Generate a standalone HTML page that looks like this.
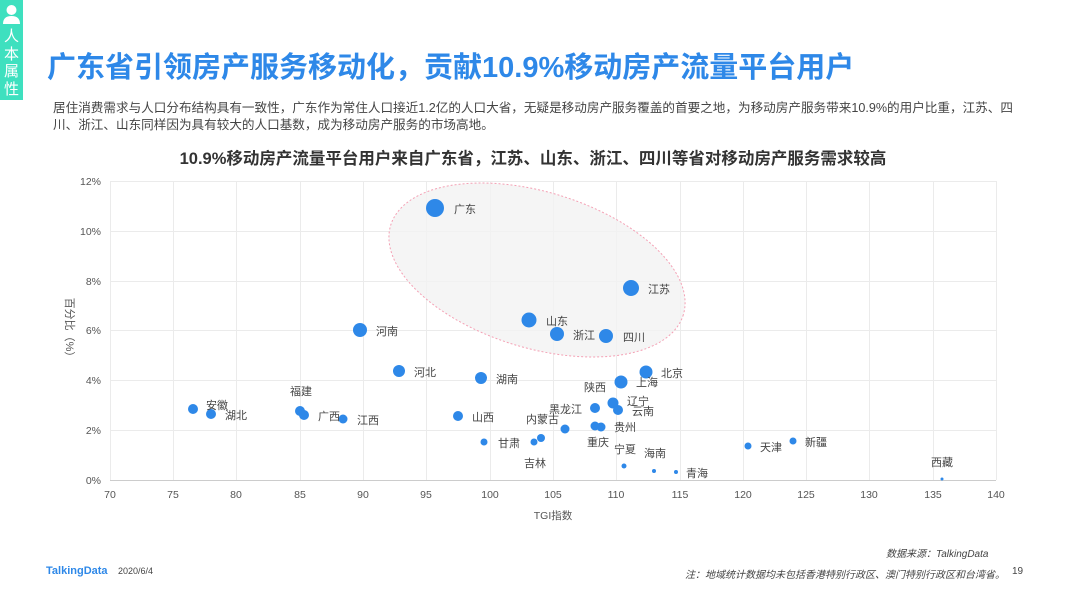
<!DOCTYPE html>
<html><head><meta charset="utf-8"><style>
body{margin:0;width:1066px;height:599px;background:#fff;overflow:hidden;font-family:"Liberation Sans","Noto Sans CJK SC",sans-serif;position:relative}
.a{position:absolute;white-space:nowrap}
</style></head><body>
<div class="a" style="left:0;top:0;width:23px;height:100px;background:#3ee0bf"></div>
<svg class="a" style="left:0;top:0" width="23" height="100"><circle cx="11.5" cy="10" r="5" fill="#fff"/><path d="M3 24 Q3 16 11.5 16 Q20 16 20 24 Z" fill="#fff"/></svg>
<div class="a" style="left:4px;top:27px;width:17px;font-size:15px;line-height:17.5px;color:#fff;font-family:'Noto Sans CJK SC',sans-serif">人<br>本<br>属<br>性</div>
<div class="a" style="left:47px;top:44px;font-size:29px;font-weight:bold;color:#2e88e8;font-family:'Liberation Sans','Noto Sans CJK SC',sans-serif">广东省引领房产服务移动化，贡献10.9%移动房产流量平台用户</div>
<div class="a" style="left:53px;top:100px;font-size:12.6px;line-height:17px;color:#444;white-space:normal;width:962px">居住消费需求与人口分布结构具有一致性，广东作为常住人口接近1.2亿的人口大省，无疑是移动房产服务覆盖的首要之地，为移动房产服务带来10.9%的用户比重，江苏、四川、浙江、山东同样因为具有较大的人口基数，成为移动房产服务的市场高地。</div>
<div class="a" style="left:0;width:1066px;text-align:center;top:145px;font-size:16.5px;font-weight:bold;color:#333">10.9%移动房产流量平台用户来自广东省，江苏、山东、浙江、四川等省对移动房产服务需求较高</div>
<svg class="a" style="left:0;top:0" width="1066" height="599" font-family="Liberation Sans,Noto Sans CJK SC,sans-serif">
<g stroke="#ebebeb" stroke-width="1">
<line x1="110" y1="181.5" x2="996" y2="181.5"/><line x1="110" y1="231.5" x2="996" y2="231.5"/><line x1="110" y1="281.5" x2="996" y2="281.5"/><line x1="110" y1="330.5" x2="996" y2="330.5"/><line x1="110" y1="380.5" x2="996" y2="380.5"/><line x1="110" y1="430.5" x2="996" y2="430.5"/>
<line x1="110.5" y1="181" x2="110.5" y2="480"/><line x1="173.5" y1="181" x2="173.5" y2="480"/><line x1="236.5" y1="181" x2="236.5" y2="480"/><line x1="300.5" y1="181" x2="300.5" y2="480"/><line x1="363.5" y1="181" x2="363.5" y2="480"/><line x1="426.5" y1="181" x2="426.5" y2="480"/><line x1="490.5" y1="181" x2="490.5" y2="480"/><line x1="553.5" y1="181" x2="553.5" y2="480"/><line x1="616.5" y1="181" x2="616.5" y2="480"/><line x1="680.5" y1="181" x2="680.5" y2="480"/><line x1="743.5" y1="181" x2="743.5" y2="480"/><line x1="806.5" y1="181" x2="806.5" y2="480"/><line x1="869.5" y1="181" x2="869.5" y2="480"/><line x1="933.5" y1="181" x2="933.5" y2="480"/><line x1="996.5" y1="181" x2="996.5" y2="480"/>
</g>
<line x1="110" y1="480.5" x2="996" y2="480.5" stroke="#ccc"/>
<ellipse cx="537" cy="270" rx="153" ry="78" transform="rotate(17 537 270)" fill="#f2f2f2" fill-opacity="0.8" stroke="#f4a0b4" stroke-dasharray="2 2"/>
<g font-size="10.5" fill="#555" text-anchor="end">
<text x="101" y="185">12%</text><text x="101" y="235">10%</text><text x="101" y="285">8%</text><text x="101" y="334">6%</text><text x="101" y="384">4%</text><text x="101" y="434">2%</text><text x="101" y="484">0%</text>
</g>
<g font-size="10.5" fill="#555" text-anchor="middle">
<text x="110" y="498">70</text><text x="173" y="498">75</text><text x="236" y="498">80</text><text x="300" y="498">85</text><text x="363" y="498">90</text><text x="426" y="498">95</text><text x="490" y="498">100</text><text x="553" y="498">105</text><text x="616" y="498">110</text><text x="680" y="498">115</text><text x="743" y="498">120</text><text x="806" y="498">125</text><text x="869" y="498">130</text><text x="933" y="498">135</text><text x="996" y="498">140</text>
<text x="553" y="519">TGI指数</text>
<text transform="translate(66 330) rotate(90)" font-size="11">百分比（%）</text>
</g>
<g fill="#2e88e8">
<circle cx="435" cy="208" r="9"/><circle cx="631" cy="288" r="8"/><circle cx="529" cy="320" r="7.5"/><circle cx="557" cy="334" r="7"/><circle cx="606" cy="336" r="7"/><circle cx="360" cy="330" r="7"/><circle cx="399" cy="371" r="6"/><circle cx="481" cy="378" r="6"/><circle cx="646" cy="372" r="6.5"/><circle cx="621" cy="382" r="6.5"/>
<circle cx="193" cy="409" r="5"/><circle cx="211" cy="414" r="5"/><circle cx="300" cy="411" r="5"/><circle cx="304" cy="415" r="5"/><circle cx="343" cy="419" r="4.5"/><circle cx="458" cy="416" r="5"/><circle cx="595" cy="408" r="5"/><circle cx="613" cy="403" r="5.5"/><circle cx="618" cy="410" r="5"/><circle cx="595" cy="426" r="4.5"/><circle cx="601" cy="427" r="4.5"/><circle cx="565" cy="429" r="4.5"/>
<circle cx="484" cy="442" r="3.5"/><circle cx="534" cy="442" r="3.5"/><circle cx="541" cy="438" r="4"/><circle cx="624" cy="466" r="2.5"/><circle cx="654" cy="471" r="2"/><circle cx="676" cy="472" r="2"/><circle cx="748" cy="446" r="3.5"/><circle cx="793" cy="441" r="3.5"/><circle cx="942" cy="479" r="1.5"/>
</g>
<g font-size="11" fill="#444">
<text x="454" y="213">广东</text><text x="648" y="293">江苏</text><text x="546" y="325">山东</text><text x="573" y="339">浙江</text><text x="623" y="341">四川</text><text x="376" y="335">河南</text><text x="414" y="376">河北</text><text x="496" y="383">湖南</text><text x="661" y="377">北京</text><text x="636" y="386">上海</text><text x="584" y="391">陕西</text>
<text x="206" y="409">安徽</text><text x="225" y="419">湖北</text><text x="290" y="395">福建</text><text x="318" y="420">广西</text><text x="357" y="424">江西</text><text x="472" y="421">山西</text><text x="549" y="413">黑龙江</text><text x="627" y="405">辽宁</text><text x="632" y="415">云南</text><text x="526" y="423">内蒙古</text><text x="614" y="431">贵州</text><text x="587" y="446">重庆</text><text x="498" y="447">甘肃</text><text x="524" y="467">吉林</text><text x="614" y="453">宁夏</text><text x="644" y="457">海南</text><text x="686" y="477">青海</text><text x="760" y="451">天津</text><text x="805" y="446">新疆</text><text x="931" y="466">西藏</text>
</g>
</svg>
<div class="a" style="left:886px;top:545px;font-size:10px;color:#444;font-style:italic">数据来源：TalkingData</div>
<div class="a" style="left:46px;top:565px;font-size:11px;color:#2e88e8;font-weight:bold">TalkingData</div>
<div class="a" style="left:118px;top:566px;font-size:9px;color:#444">2020/6/4</div>
<div class="a" style="left:685px;top:566px;font-size:10px;color:#444;font-style:italic">注：地域统计数据均未包括香港特别行政区、澳门特别行政区和台湾省。</div>
<div class="a" style="left:1012px;top:566px;font-size:10px;color:#444">19</div>
</body></html>
